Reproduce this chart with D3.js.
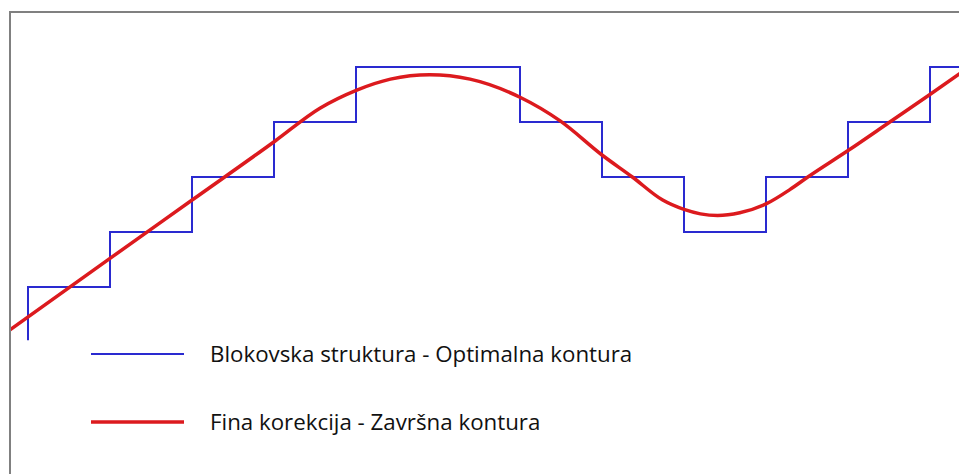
<!DOCTYPE html>
<html>
<head>
<meta charset="utf-8">
<script src="https://cdn.jsdelivr.net/npm/d3@7"></script>
<style>
  body { margin: 0; background: #fff; }
  svg { display: block; }
  .legend-text { font-family: "Open Sans", sans-serif; font-size: 22.3px; fill: #111; }
</style>
</head>
<body>
<div id="chart"></div>
<script>
// x in block units (one block = one step), y in levels
let blockX = [0, 0, 1, 2, 3, 4, 6, 7, 8, 9, 10, 11, 11.4];
let blockLevel = [-0.97, 0, 1, 2, 3, 4, 3, 2, 1, 2, 3, 4, 4];

let fineX = [-0.22, 1.0, 2.01, 3.01, 3.56, 4.01, 4.42, 4.9, 5.39, 6.0, 6.49, 7.0, 7.37, 7.74, 8.0, 8.2, 8.41, 8.68, 9.0, 9.29, 9.51, 10.01, 10.51, 10.99, 11.39];
let fineLevel = [-0.78, 0.52, 1.59, 2.65, 3.25, 3.58, 3.78, 3.86, 3.78, 3.45, 3.02, 2.4, 2.0, 1.58, 1.41, 1.33, 1.3, 1.35, 1.51, 1.77, 2.0, 2.49, 3.0, 3.49, 3.91];

let legendLabels = ["Blokovska struktura - Optimalna kontura", "Fina korekcija - Završna kontura"];

let width = 959;
let height = 474;
let blue = "#2a2ad0";
let red = "#dc1a1e";

let svg = d3.select("#chart").append("svg")
    .attr("width", width)
    .attr("height", height);

let x = d3.scaleLinear().domain([0, 11]).range([28, 930]);
let y = d3.scaleLinear().domain([0, 4]).range([287, 67]);

// frame, only top and left edges are visible
svg.append("path")
    .attr("d", "M10," + height + "V12H" + width)
    .attr("fill", "none")
    .attr("stroke", "#808080")
    .attr("stroke-width", 2);

svg.append("clipPath").attr("id", "clip")
    .append("rect")
    .attr("x", 11).attr("y", 13)
    .attr("width", width - 11).attr("height", height - 13);

let g = svg.append("g").attr("clip-path", "url(#clip)");

let blockData = d3.zip(blockX, blockLevel);
let fineData = d3.zip(fineX, fineLevel);

let stepLine = d3.line()
    .x(d => x(d[0]))
    .y(d => y(d[1]))
    .curve(d3.curveStepAfter);

let smoothLine = d3.line()
    .x(d => x(d[0]))
    .y(d => y(d[1]))
    .curve(d3.curveMonotoneX);

g.append("path")
    .datum(blockData)
    .attr("d", stepLine)
    .attr("fill", "none")
    .attr("stroke", blue)
    .attr("stroke-width", 2);

g.append("path")
    .datum(fineData)
    .attr("d", smoothLine)
    .attr("fill", "none")
    .attr("stroke", red)
    .attr("stroke-width", 3.5);

// legend
let legend = svg.append("g");
let legendY = [354, 422];
let legendColors = [blue, red];
let legendWidths = [1.8, 3.5];

legendLabels.forEach((label, i) => {
    legend.append("line")
        .attr("x1", 91).attr("x2", 184)
        .attr("y1", legendY[i]).attr("y2", legendY[i])
        .attr("stroke", legendColors[i])
        .attr("stroke-width", legendWidths[i]);

    legend.append("text")
        .attr("class", "legend-text")
        .attr("x", 210)
        .attr("y", legendY[i])
        .attr("dy", "0.35em")
        .text(label);
});
</script>
</body>
</html>
